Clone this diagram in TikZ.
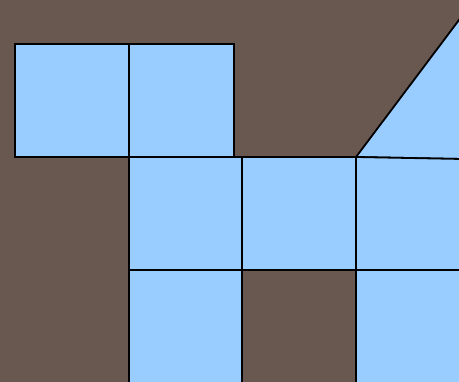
\documentclass[tikz,border=0pt]{standalone}
\usepackage{tikz}
\definecolor{soil}{HTML}{695850}
\definecolor{sky}{HTML}{99CCFF}

\begin{document}
\begin{tikzpicture}[
      x=1pt, y=-1pt,
      tile/.style={draw=black, fill=sky, line width=1.8pt, line join=miter},
      ground/.style={fill=soil}
    ]
    % background
    \fill[ground] (0,0) rectangle (459,382);
    \useasboundingbox (0,0) rectangle (459,382);

    % top row
    \draw[tile] (15,44) rectangle (129,157);
    \draw[tile] (129,44) rectangle (234,157);

    % slanted piece on the right
    \draw[tile] (356,157) -- (462,16) -- (462,159) -- cycle;

    % middle row
    \draw[tile] (129,157) rectangle (242,270);
    \draw[tile] (242,157) rectangle (356,270);
    \draw[tile] (356,157) -- (462,159) -- (462,270) -- (356,270) -- cycle;

    % bottom row
    \draw[tile] (129,270) rectangle (242,386);
    \draw[tile] (356,270) rectangle (462,386);
\end{tikzpicture}
\end{document}
